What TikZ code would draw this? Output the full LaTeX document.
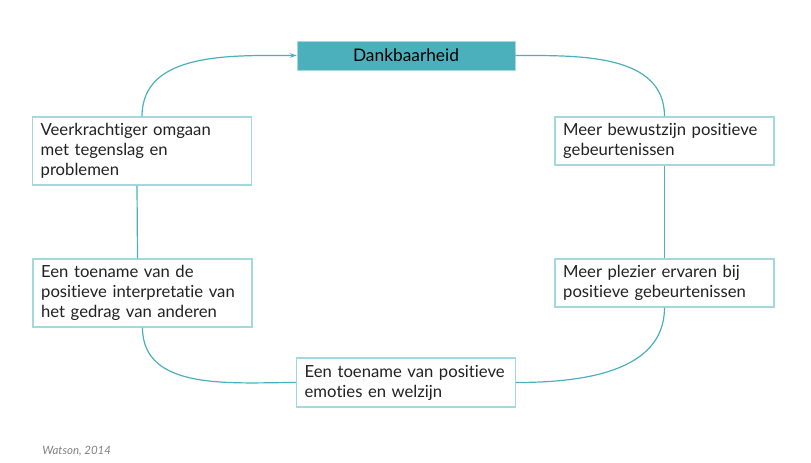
\documentclass[tikz,border=0pt]{standalone}
\usepackage{fontspec}
\setmainfont{Lato}[Ligatures={NoCommon}]
\usepackage{xcolor}
\usetikzlibrary{positioning,arrows.meta}
\definecolor{teal1}{HTML}{4BB0BC}
\definecolor{teal2}{HTML}{A3D8DF}
\definecolor{tekst}{HTML}{222222}
\hyphenpenalty=10000

\begin{document}
\begin{tikzpicture}[x=0.75pt,y=-0.75pt,
  blok/.style={draw=teal2,line width=0.9pt,fill=white,text=tekst,align=left,
    text width=152pt,inner xsep=6pt,minimum width=164.25pt,
    font=\fontsize{12.5}{15}\selectfont},
  kop/.style={fill=teal1,draw=teal2,line width=0.6pt,text=black,minimum width=163.5pt,
    minimum height=21.75pt,font=\fontsize{13}{15}\selectfont},
  lijn/.style={draw=teal1,line width=0.9pt}]
  \useasboundingbox (0,0) rectangle (811,463);
  \node[kop] (dank) at (406,55.5) {Dankbaarheid};
  \node[blok,minimum height=51pt] (veer) at (142,151) {Veerkrachtiger omgaan\\met tegenslag en\\problemen};
  \node[blok,minimum height=51pt] (inter) at (142.5,293) {Een toename van de\\positieve interpretatie van\\het gedrag van anderen};
  \node[blok,minimum height=36.75pt] (emo) at (406,382.5) {Een toename van positieve\\emoties en welzijn};
  \node[blok,minimum height=36pt] (bewust) at (664.5,141) {Meer bewustzijn positieve\\gebeurtenissen};
  \node[blok,minimum height=36pt] (plezier) at (664.5,283) {Meer plezier ervaren bij\\positieve gebeurtenissen};
  % kring
  \draw[lijn,-{Stealth[length=5pt,width=3.5pt]}] (veer.north) to[out=90,in=180] (dank.west);
  \draw[lijn] (dank.east) to[out=0,in=90] (bewust.north);
  \draw[lijn] (bewust) -- (plezier);
  \draw[lijn] (plezier.south) to[out=-90,in=0] (emo.east);
  \draw[lijn] (emo.west) to[out=180,in=-90] (inter.south);
  \draw[lijn] ([xshift=-3.75pt]inter.north) -- ([xshift=-3.75pt]veer.south);
  \node[anchor=base west,text=gray,font=\itshape\fontsize{8.6}{10}\selectfont,inner sep=0pt] (bron) at (42,455) {Watson, 2014};
\end{tikzpicture}
\end{document}
